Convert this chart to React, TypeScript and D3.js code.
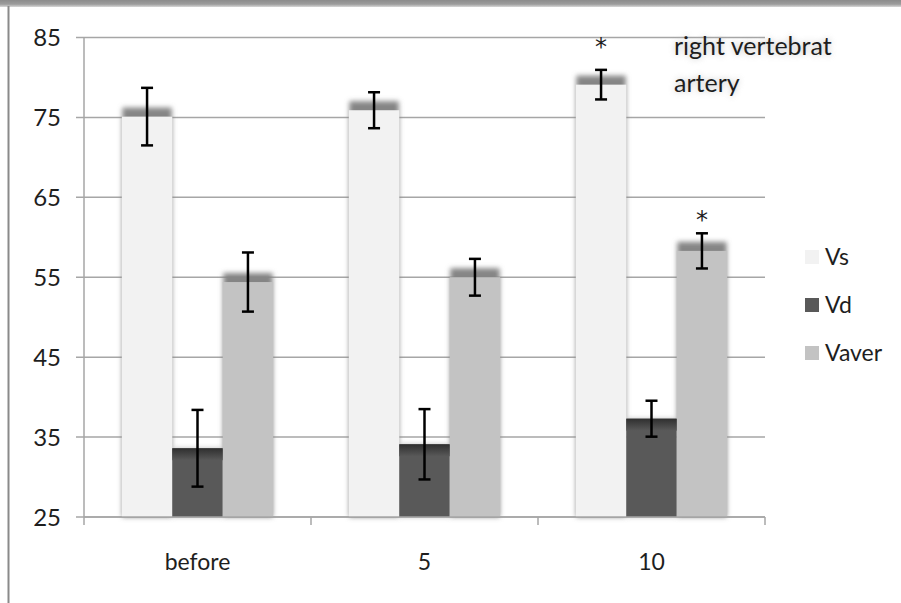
import React, { useRef, useEffect } from "react";
import * as d3 from "d3";

const categories = ["before", "5", "10"];
const seriesNames = ["Vs", "Vd", "Vaver"];
const vsValues = [75.1, 75.9, 79.1];
const vsErrors = [3.6, 2.25, 1.85];
const vdValues = [33.6, 34.1, 37.3];
const vdErrors = [4.8, 4.4, 2.25];
const vaverValues = [54.4, 55.0, 58.3];
const vaverErrors = [3.7, 2.3, 2.2];
const yTicks = [25, 35, 45, 55, 65, 75, 85];
const sigMarks = [
  { category: "10", series: "Vs", at: 84.4 },
  { category: "10", series: "Vaver", at: 62.8 },
];
const titleLines = ["right vertebrat", "artery"];

const colors: Record<string, string> = {
  Vs: "#f2f2f2",
  Vd: "#595959",
  Vaver: "#c3c3c3",
};

const FONT = "Lato, 'Open Sans', sans-serif";

const App: React.FC = () => {
  const ref = useRef<SVGSVGElement | null>(null);

  useEffect(() => {
    d3.select(ref.current).selectAll("*").remove();
    const svg = d3.select(ref.current);
    const width = 901;
    const height = 603;
    svg.attr("width", width).attr("height", height);

    const defs = svg.append("defs");
    const blur = defs.append("filter").attr("id", "barShadow")
      .attr("x", "-30%").attr("y", "-30%").attr("width", "160%").attr("height", "160%");
    blur.append("feGaussianBlur").attr("stdDeviation", 2.5);
    const glow = defs.append("filter").attr("id", "glow")
      .attr("x", "-20%").attr("y", "-40%").attr("width", "140%").attr("height", "180%");
    glow.append("feGaussianBlur").attr("stdDeviation", 3);

    const topGrad = defs.append("linearGradient").attr("id", "topBand")
      .attr("x1", 0).attr("y1", 0).attr("x2", 0).attr("y2", 1);
    topGrad.append("stop").attr("offset", "0%").attr("stop-color", "#8c8c8c");
    topGrad.append("stop").attr("offset", "60%").attr("stop-color", "#9d9d9d");
    topGrad.append("stop").attr("offset", "100%").attr("stop-color", "#d8d8d8");

    const vdGrad = defs.append("linearGradient").attr("id", "vdTop")
      .attr("x1", 0).attr("y1", 0).attr("x2", 0).attr("y2", 1);
    vdGrad.append("stop").attr("offset", "0%").attr("stop-color", "#2f2f2f");
    vdGrad.append("stop").attr("offset", "100%").attr("stop-color", "#595959");

    // frame
    svg.append("rect").attr("width", width).attr("height", height).attr("fill", "#fff");
    svg.append("rect").attr("x", 0).attr("y", 0).attr("width", width).attr("height", 7)
      .attr("fill", "url(#topBand)");
    svg.append("line").attr("x1", 8.5).attr("x2", 8.5).attr("y1", 6).attr("y2", height)
      .attr("stroke", "#8a8a8a").attr("stroke-width", 2);

    const left = 84;
    const right = 765;
    const y = d3.scaleLinear().domain([25, 85]).range([517, 37.5]);
    const x0 = d3.scaleBand().domain(categories).range([left, right]).padding(0);
    const x1 = d3.scaleBand().domain(seriesNames).range([0, x0.bandwidth()])
      .paddingInner(0).paddingOuter(0.75);

    // gridlines
    svg.append("g").selectAll("line").data(yTicks).enter().append("line")
      .attr("x1", left - 8).attr("x2", right)
      .attr("y1", (d) => y(d)).attr("y2", (d) => y(d))
      .attr("stroke", "#a6a6a6").attr("stroke-width", 1.5);

    // y labels
    svg.append("g").selectAll("text").data(yTicks).enter().append("text")
      .attr("x", 61).attr("y", (d) => y(d))
      .attr("dy", "0.36em").attr("text-anchor", "end")
      .attr("font-family", FONT).attr("font-size", 24).attr("fill", "#1e1e1e")
      .text((d) => d);

    const values: Record<string, number[]> = { Vs: vsValues, Vd: vdValues, Vaver: vaverValues };
    const errors: Record<string, number[]> = { Vs: vsErrors, Vd: vdErrors, Vaver: vaverErrors };

    const bars = categories.flatMap((c, i) =>
      seriesNames.map((s) => ({ category: c, series: s, value: values[s][i], err: errors[s][i] }))
    );

    const bx = (d: any) => (x0(d.category) || 0) + (x1(d.series) || 0);
    const bw = x1.bandwidth();

    const barG = svg.append("g");
    // shadows
    barG.selectAll("rect.shadow").data(bars).enter().append("rect")
      .attr("class", "shadow")
      .attr("x", (d) => bx(d) + 0.5)
      .attr("y", (d) => y(d.value) - (d.series === "Vd" ? 0 : 9))
      .attr("width", bw - 1)
      .attr("height", (d) => y(25) - y(d.value) + (d.series === "Vd" ? 0 : 9))
      .attr("fill", (d) => (d.series === "Vd" ? "#bbb" : "#858585"))
      .attr("filter", "url(#barShadow)");
    barG.selectAll("rect.bar").data(bars).enter().append("rect")
      .attr("class", "bar")
      .attr("x", (d) => bx(d))
      .attr("y", (d) => y(d.value))
      .attr("width", bw)
      .attr("height", (d) => y(25) - y(d.value))
      .attr("fill", (d) => colors[d.series]);
    barG.selectAll("rect.vdtop").data(bars.filter((d) => d.series === "Vd")).enter().append("rect")
      .attr("x", (d) => bx(d))
      .attr("y", (d) => y(d.value))
      .attr("width", bw)
      .attr("height", 12)
      .attr("fill", "url(#vdTop)");

    // axes
    svg.append("line").attr("x1", left).attr("x2", right).attr("y1", y(25)).attr("y2", y(25))
      .attr("stroke", "#a6a6a6").attr("stroke-width", 1.5);
    svg.append("line").attr("x1", left).attr("x2", left).attr("y1", y(85)).attr("y2", y(25) + 8)
      .attr("stroke", "#a6a6a6").attr("stroke-width", 1.5);
    const catEdges = categories.map((c) => (x0(c) || 0) + x0.bandwidth());
    svg.append("g").selectAll("line").data(catEdges).enter().append("line")
      .attr("x1", (d) => d).attr("x2", (d) => d)
      .attr("y1", y(25)).attr("y2", y(25) + 8)
      .attr("stroke", "#a6a6a6").attr("stroke-width", 1.5);

    svg.append("g").selectAll("text").data(categories).enter().append("text")
      .attr("x", (d) => (x0(d) || 0) + x0.bandwidth() / 2)
      .attr("y", 562).attr("dy", "0.36em").attr("text-anchor", "middle")
      .attr("font-family", FONT).attr("font-size", 23).attr("fill", "#1e1e1e")
      .text((d) => d);

    // error bars
    const errG = svg.append("g").attr("stroke", "#000").attr("stroke-width", 2.5);
    bars.forEach((d) => {
      const cx = bx(d) + bw / 2;
      const top = y(d.value + d.err);
      const bot = y(d.value - d.err);
      errG.append("line").attr("x1", cx).attr("x2", cx).attr("y1", top).attr("y2", bot);
      errG.append("line").attr("x1", cx - 6).attr("x2", cx + 6).attr("y1", top).attr("y2", top);
      errG.append("line").attr("x1", cx - 6).attr("x2", cx + 6).attr("y1", bot).attr("y2", bot);
    });

    // significance stars
    svg.append("g").selectAll("text").data(sigMarks).enter().append("text")
      .attr("x", (d) => (x0(d.category) || 0) + (x1(d.series) || 0) + bw / 2)
      .attr("y", (d) => y(d.at)).attr("dy", "0.55em").attr("text-anchor", "middle")
      .attr("font-family", "'DejaVu Sans', sans-serif").attr("font-size", 24).attr("fill", "#1e1e1e")
      .text("*");

    // title with glow
    const titleG = svg.append("g");
    titleLines.forEach((t, i) => {
      titleG.append("text").attr("x", 674).attr("y", 55 + i * 37)
        .attr("font-family", FONT).attr("font-size", 25).attr("fill", "#999")
        .attr("filter", "url(#glow)").attr("opacity", 0.6).text(t);
      titleG.append("text").attr("x", 674).attr("y", 55 + i * 37)
        .attr("font-family", FONT).attr("font-size", 25).attr("fill", "#1e1e1e").text(t);
    });

    // legend
    const lg = svg.append("g").selectAll("g").data(seriesNames).enter().append("g")
      .attr("transform", (_d, i) => `translate(805, ${250 + i * 48})`);
    lg.append("rect").attr("width", 14).attr("height", 14).attr("fill", (d) => colors[d]);
    lg.append("text").attr("x", 20).attr("y", 7).attr("dy", "0.36em")
      .attr("font-family", FONT).attr("font-size", 23).attr("fill", "#1e1e1e")
      .text((d) => d);
  }, []);

  return <svg ref={ref} style={{ position: "absolute", left: 0, top: 0 }}></svg>;
};

export default App;
